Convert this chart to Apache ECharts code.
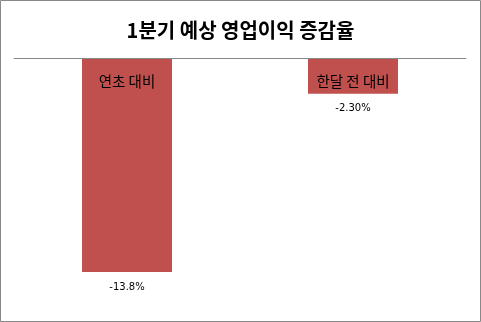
<!DOCTYPE html>
<html><head><meta charset="utf-8">
<script src="https://cdn.jsdelivr.net/npm/echarts@6/dist/echarts.min.js"></script>
<style>html,body{margin:0;padding:0;background:#fff}#c{width:481px;height:322px}</style>
</head><body><div id="c"></div>
<script>
var categories = ['연초 대비', '한달 전 대비'];
var values = [-13.8, -2.3];
var valueLabels = ['-13.8%', '-2.30%'];
var chart = echarts.init(document.getElementById('c'));
chart.setOption({
  animation: false,
  backgroundColor: '#fff',
  title: {
    text: '1분기 예상 영업이익 증감율', left: 'center', top: 15,
    textStyle: { fontFamily: 'Noto Sans CJK KR', fontSize: 20, fontWeight: 'bold', color: '#000' }
  },
  graphic: [{ type: 'rect', shape: { x: 0.5, y: 0.5, width: 480, height: 321 }, style: { fill: 'none', stroke: '#888', lineWidth: 1 } }],
  grid: { left: 14, right: 15, top: 58, height: 232.6 },
  xAxis: {
    type: 'category', data: categories, position: 'top',
    axisLine: { lineStyle: { color: '#888', width: 1 } }, axisTick: { show: false },
    axisLabel: { inside: true, margin: 16, fontFamily: 'Noto Sans CJK KR', fontSize: 14.5, color: '#000' },
    z: 10
  },
  yAxis: { type: 'value', min: -15, max: 0, show: false, splitLine: { show: false } },
  series: [{
    type: 'bar', data: values, barWidth: 90, itemStyle: { color: '#C0504D' },
    label: { show: true, position: 'bottom', distance: 10, fontFamily: 'DejaVu Sans', fontSize: 10, color: '#000',
      formatter: function (p) { return valueLabels[p.dataIndex]; } }
  }]
});
</script></body></html>
